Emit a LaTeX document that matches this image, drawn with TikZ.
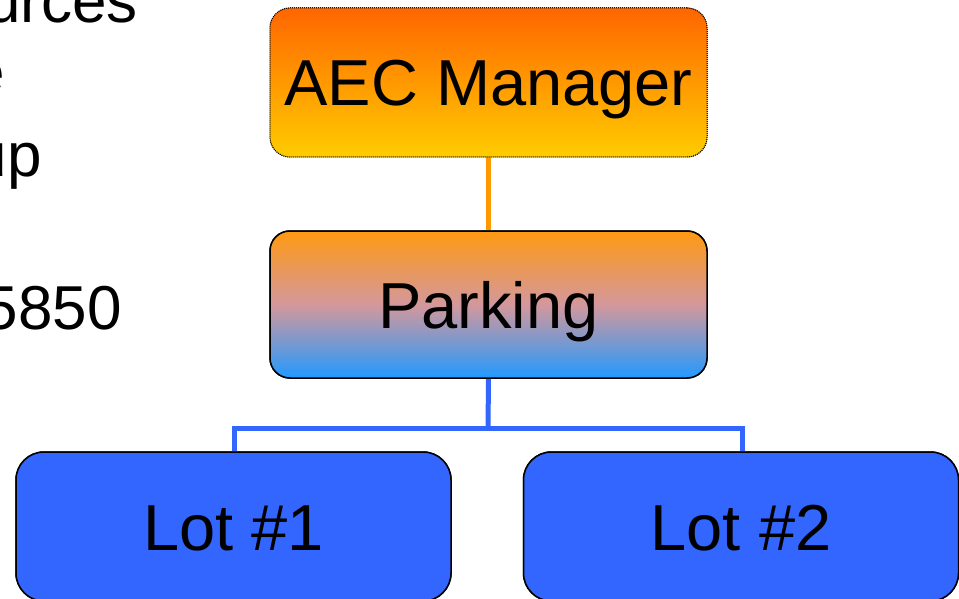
\documentclass[tikz,border=0pt]{standalone}
\usepackage{fontspec}
\setmainfont{Liberation Sans}
\definecolor{aectop}{HTML}{FF6600}
\definecolor{aecbot}{HTML}{FFCC00}
\definecolor{parktop}{HTML}{FF9911}
\definecolor{parkmid}{HTML}{D4989C}
\definecolor{parkbot}{HTML}{2299FF}
\definecolor{lotblue}{HTML}{3366FF}
\definecolor{linkorange}{HTML}{FF9900}
\begin{document}
\begin{tikzpicture}[x=1pt,y=-1pt,
  boxbase/.style={rectangle, rounded corners=20pt, minimum width=437pt, inner sep=0pt,
    font=\fontsize{65}{70}\selectfont, text=black, text height=47pt, text depth=0pt},
  aecbox/.style={boxbase, minimum height=149pt, draw=black, densely dotted, line width=1pt,
    top color=aectop, bottom color=aecbot},
  parkbox/.style={boxbase, minimum height=147pt, draw=black, line width=1.5pt,
    top color=parktop, bottom color=parkbot, middle color=parkmid},
  lotbox/.style={boxbase, rounded corners=28pt, minimum width=435pt, minimum height=149pt,
    draw=black, line width=1.5pt, fill=lotblue},
  sidetext/.style={anchor=base east, inner sep=0pt, font=\fontsize{62}{70}\selectfont},
  orangelink/.style={draw=linkorange, line width=5pt},
  bluelink/.style={draw=lotblue, line width=5pt}
]
\useasboundingbox (0,0) rectangle (959,599);
\clip (0,0) rectangle (959,599);
% left text fragments
\node[sidetext] (t1) at (138,23) {urces};
\node[sidetext] (t2) at (5,94) {e};
\node[sidetext] (t3) at (42,177) {up};
\node[sidetext] (t4) at (122,329) {5850};
% connectors
\coordinate (bar) at (488,428);
\node[aecbox] (aec) at (488.5,82.5) {};
\node[parkbox] (park) at (488.5,304.5) {};
\node[lotbox] (lot1) at (233.5,526.5) {};
\node[lotbox] (lot2) at (741,526.5) {};
\draw[orangelink] (aec.south) -- (park.north);
\draw[bluelink] (park.south) -- (bar);
\draw[bluelink, line cap=rect] (lot1.north -| 234,0) |- (bar) -| (lot2.north -| 742,0);
% redraw boxes on top with text
\node[aecbox] at (aec) {AEC Manager};
\node[parkbox] at (park) {Parking};
\node[lotbox] at (lot1) {Lot \#1};
\node[lotbox] at (lot2) {Lot \#2};
\end{tikzpicture}
\end{document}
